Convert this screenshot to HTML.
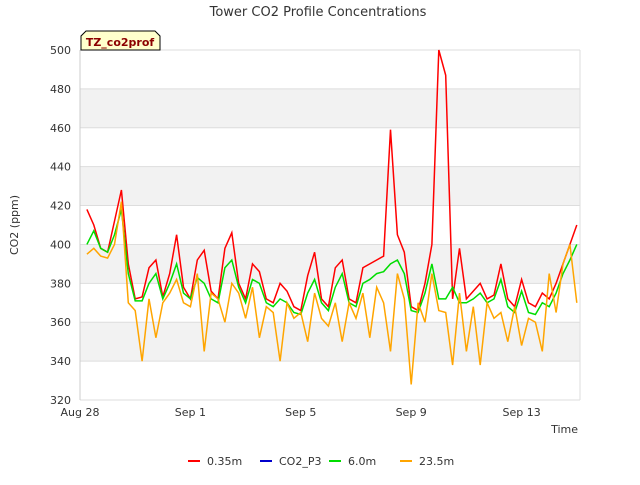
<!DOCTYPE html>
<html><head><meta charset="utf-8"><style>
body{margin:0;background:#fff;font-family:"Liberation Sans","DejaVu Sans",sans-serif}
svg text{font-family:"DejaVu Sans","Liberation Sans",sans-serif}
</style></head><body>
<svg id="c" width="640" height="480" xmlns="http://www.w3.org/2000/svg">
<text x="318" y="16" text-anchor="middle" font-size="13" fill="#333">Tower CO2 Profile Concentrations</text>
<g id="bands"></g><g id="grid"></g><g id="axes"></g><g id="series"></g>
<text x="18" y="225" font-size="11" fill="#333" transform="rotate(-90 18 225)" text-anchor="middle">CO2 (ppm)</text>
<text x="578" y="433" font-size="11" fill="#333" text-anchor="end">Time</text>
<g>
<path d="M81,50 L81,36 L86,31 L155,31 L160,36 L160,50 Z" fill="#ffffcc" stroke="#000" stroke-width="1"/>
<text x="120" y="46" font-size="11" font-weight="bold" fill="#8b0000" text-anchor="middle">TZ_co2prof</text>
</g>
<g id="legend"></g>
</svg>
<script>
const NS="http://www.w3.org/2000/svg";
const tDays=[];for(let k=1;k<=72;k++)tDays.push(k*0.25);
const yTicks=[320,340,360,380,400,420,440,460,480,500];
const xTickLabels=["Aug 28","Sep 1","Sep 5","Sep 9","Sep 13"];
const xTickDays=[0,4,8,12,16];
const seriesNames=["0.35m","CO2_P3","6.0m","23.5m"];
const seriesColors=["#ff0000","#0000cc","#00dd00","#ffa500"];
const red=[418,410,398,396,412,428,390,372,373,388,392,373,385,405,378,372,392,397,376,372,398,406,380,372,390,386,372,370,380,376,368,366,384,396,372,368,388,392,372,370,388,390,392,394,459,405,396,368,366,380,400,500,487,372,398,372,376,380,372,374,390,372,368,382,370,368,375,372,380,390,400,410];
const p3=[];
const green=[400,407,398,396,405,418,385,371,371,380,385,372,380,390,375,372,383,380,372,370,388,392,378,370,382,380,370,368,372,370,365,364,375,382,370,366,378,385,370,368,380,382,385,386,390,392,385,366,365,375,390,372,372,378,370,370,372,375,370,372,382,368,365,376,365,364,370,368,375,385,392,400];
const orange=[395,398,394,393,400,422,370,366,340,372,352,370,375,382,370,368,385,345,375,372,360,380,375,362,378,352,368,365,340,370,362,365,350,375,362,358,370,350,370,362,375,352,378,370,345,385,372,328,370,360,385,366,365,338,375,345,368,338,370,362,365,350,368,348,362,360,345,385,365,390,400,370];
const X0=80,X1=580,Y0=50,Y1=400;
const xs=d=>X0+d*27.6;
const ys=v=>Y1-(v-320)/180*(Y1-Y0);
function mk(tag,attrs,parent){const e=document.createElementNS(NS,tag);for(const k in attrs)e.setAttribute(k,attrs[k]);document.getElementById(parent).appendChild(e);return e;}
for(let i=0;i<yTicks.length-1;i++){
 if(i%2===1){const r=mk('rect',{x:X0,y:ys(yTicks[i+1]),width:X1-X0,height:ys(yTicks[i])-ys(yTicks[i+1]),fill:'#f2f2f2'},'bands');
 
 }
}
yTicks.forEach(v=>{const l=mk('line',{x1:X0,x2:X1,y1:ys(v),y2:ys(v),stroke:'#ddd'},'grid');


const t=mk('text',{x:X0-9,y:ys(v)+4,'font-size':11,fill:'#333','text-anchor':'end'},'axes');t.textContent=v;

});
mk('line',{x1:X0,x2:X0,y1:Y0,y2:Y1,stroke:'#ccc'},'axes');
mk('line',{x1:X1,x2:X1,y1:Y0,y2:Y1,stroke:'#ddd'},'axes');
xTickDays.forEach((d,i)=>{const t=mk('text',{x:xs(d),y:Y1+16,'font-size':11,fill:'#333','text-anchor':'middle'},'axes');t.textContent=xTickLabels[i];

});
[[red,0],[p3,1],[green,2],[orange,3]].forEach(([arr,i])=>{if(!arr.length)return;
const p=mk('polyline',{points:arr.map((v,k)=>xs(tDays[k])+','+ys(v)).join(' '),fill:'none',stroke:seriesColors[i],'stroke-width':1.5},'series');

});
const lx=[188,260,329,400];
seriesNames.forEach((n,i)=>{const g=mk('g',{},'legend');


const l=document.createElementNS(NS,'line');l.setAttribute('x1',lx[i]);l.setAttribute('x2',lx[i]+12);l.setAttribute('y1',461);l.setAttribute('y2',461);l.setAttribute('stroke',seriesColors[i]);l.setAttribute('stroke-width',2);g.appendChild(l);
const t=document.createElementNS(NS,'text');t.setAttribute('x',lx[i]+19);t.setAttribute('y',465);t.setAttribute('font-size',11);t.setAttribute('fill','#333');t.textContent=n;g.appendChild(t);});
</script>
</body></html>
